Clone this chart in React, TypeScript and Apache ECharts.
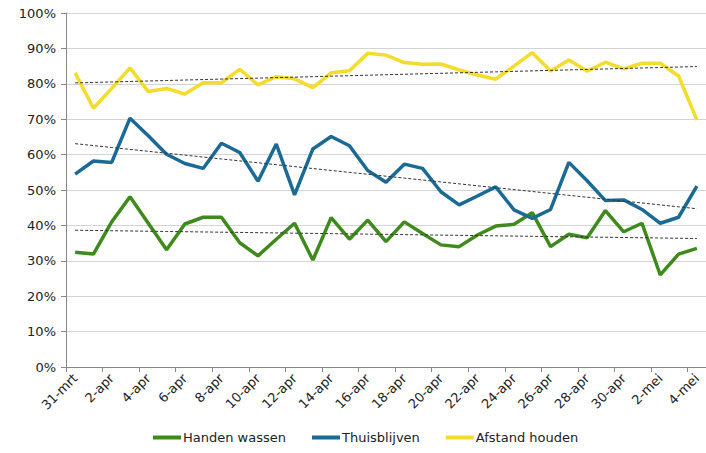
import React, { useEffect, useRef } from "react";
import * as echarts from "echarts";

const categories = [
  "31-mrt", "1-apr", "2-apr", "3-apr", "4-apr", "5-apr", "6-apr", "7-apr", "8-apr", "9-apr",
  "10-apr", "11-apr", "12-apr", "13-apr", "14-apr", "15-apr", "16-apr", "17-apr", "18-apr", "19-apr",
  "20-apr", "21-apr", "22-apr", "23-apr", "24-apr", "25-apr", "26-apr", "27-apr", "28-apr", "29-apr",
  "30-apr", "1-mei", "2-mei", "3-mei", "4-mei",
];

const handenWassen = [
  32.4, 31.9, 41.0, 48.1, 40.6, 33.1, 40.4, 42.3, 42.3, 35.1,
  31.4, 36.1, 40.6, 30.2, 42.2, 36.1, 41.5, 35.4, 41.0, 37.7,
  34.5, 34.0, 37.3, 39.8, 40.3, 43.6, 34.0, 37.5, 36.5, 44.2,
  38.2, 40.6, 26.0, 31.9, 33.5,
];

const thuisblijven = [
  54.5, 58.2, 57.8, 70.3, 65.3, 60.1, 57.5, 56.1, 63.2, 60.6,
  52.5, 63.0, 48.6, 61.6, 65.1, 62.5, 55.5, 52.2, 57.3, 56.1,
  49.5, 45.8, 48.3, 50.9, 44.4, 42.0, 44.5, 57.8, 52.6, 47.0,
  47.2, 44.5, 40.6, 42.3, 51.1,
];

const afstandHouden = [
  83.1, 73.1, 78.7, 84.5, 77.8, 78.7, 77.1, 80.3, 80.3, 84.1,
  79.7, 82.0, 81.4, 78.9, 83.1, 83.7, 88.6, 88.1, 86.0, 85.5,
  85.6, 83.9, 82.5, 81.3, 85.0, 88.8, 83.6, 86.7, 83.6, 86.1,
  84.2, 85.8, 85.8, 82.2, 69.8,
];

const yTicks = [0, 10, 20, 30, 40, 50, 60, 70, 80, 90, 100];

function linearTrend(values: number[]): number[] {
  const n = values.length;
  let sx = 0, sy = 0, sxx = 0, sxy = 0;
  values.forEach((v, i) => {
    sx += i; sy += v; sxx += i * i; sxy += i * v;
  });
  const slope = (n * sxy - sx * sy) / (n * sxx - sx * sx);
  const intercept = (sy - slope * sx) / n;
  return values.map((_, i) => +(intercept + slope * i).toFixed(3));
}

const FONT = "DejaVu Sans";

export default function App() {
  const ref = useRef<HTMLDivElement>(null);

  useEffect(() => {
    if (!ref.current) return;
    const chart = echarts.init(ref.current, undefined, { renderer: "svg" });

    const mainSeries = [
      { name: "Handen wassen", data: handenWassen, color: "#3f8a1d" },
      { name: "Thuisblijven", data: thuisblijven, color: "#1b6a95" },
      { name: "Afstand houden", data: afstandHouden, color: "#f3dc2c" },
    ];

    const series: any[] = [];
    mainSeries.forEach((s) => {
      series.push({
        name: s.name,
        type: "line",
        data: s.data,
        symbol: "none",
        color: s.color,
        lineStyle: { width: 3.5, color: s.color },
        z: 2,
      });
    });
    mainSeries.forEach((s) => {
      series.push({
        name: s.name + " trend",
        type: "line",
        data: linearTrend(s.data),
        symbol: "none",
        lineStyle: { width: 1, color: "#333", type: [3, 2] },
        z: 3,
        silent: true,
      });
    });

    chart.setOption({
      animation: false,
      backgroundColor: "#fff",
      textStyle: { fontFamily: FONT },
      grid: { left: 66, right: 0, top: 13, bottom: 86, containLabel: false },
      legend: {
        data: mainSeries.map((s) => s.name),
        bottom: 4,
        left: 148,
        icon: "rect",
        itemWidth: 28,
        itemHeight: 4,
        itemGap: 26,
        textStyle: { fontFamily: FONT, fontSize: 13, color: "#222", padding: [0, 0, 0, -3] },
      },
      xAxis: {
        type: "category",
        data: categories,
        boundaryGap: true,
        axisLine: { lineStyle: { color: "#888", width: 1 } },
        axisTick: { show: true, interval: 1, length: 5, lineStyle: { color: "#888" } },
        axisLabel: {
          interval: 1,
          rotate: 45,
          fontFamily: FONT,
          fontSize: 13,
          color: "#222",
          margin: 9,
        },
      },
      yAxis: {
        type: "value",
        min: yTicks[0],
        max: yTicks[yTicks.length - 1],
        interval: 10,
        axisLine: { show: true, lineStyle: { color: "#888", width: 1 } },
        axisTick: { show: true, length: 5, lineStyle: { color: "#888" } },
        axisLabel: {
          formatter: "{value}%",
          fontFamily: FONT,
          fontSize: 13,
          color: "#222",
          margin: 10,
        },
        splitLine: { lineStyle: { color: "#d4d4d4", width: 1 } },
      },
      series,
    });

    return () => chart.dispose();
  }, []);

  return <div ref={ref} style={{ width: 706, height: 453, position: "absolute", left: 0, top: 0 }} />;
}
